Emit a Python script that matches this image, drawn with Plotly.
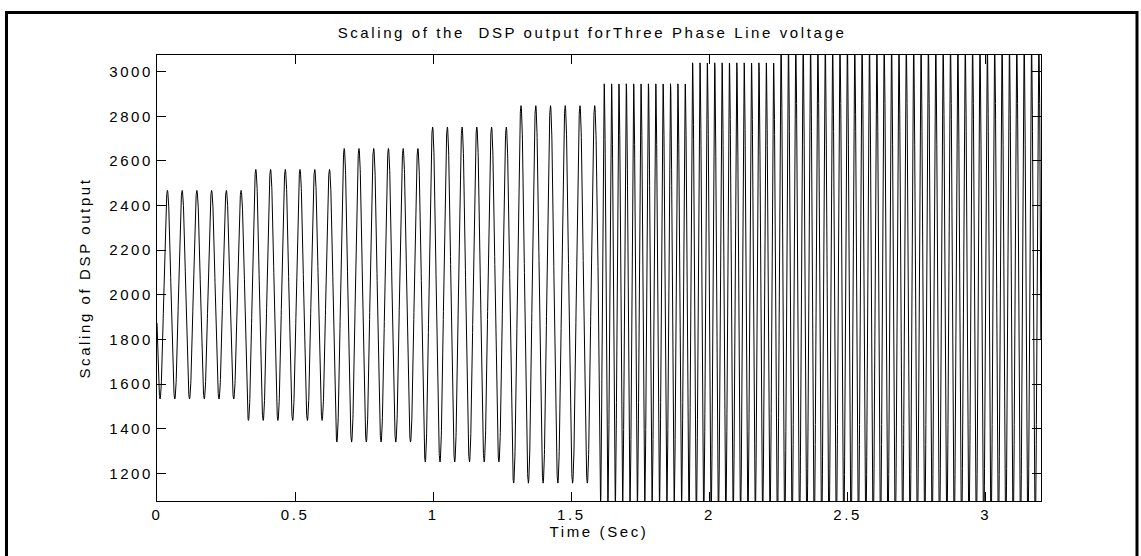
import numpy as np
import plotly.graph_objects as go

# ---- values ----
seg_start = [0.00, 0.32, 0.64, 0.96, 1.28, 1.60, 1.92, 2.24]
seg_end = [0.32, 0.64, 0.96, 1.28, 1.60, 1.92, 2.24, 3.20]
seg_max = [2468, 2562, 2656, 2752, 2848, 2946, 3040, 3135]
seg_min = [1533, 1437, 1340, 1251, 1156, 1060, 965, 870]
seg_freq_hz = [18.75, 18.75, 18.75, 18.75, 18.75, 37.5, 37.5, 37.5]
first_trough_t = 0.011

x_tick_vals = [0, 0.5, 1, 1.5, 2, 2.5, 3]
x_tick_text = ["0", "0.5", "1", "1.5", "2", "2.5", "3"]
y_tick_vals = [1200, 1400, 1600, 1800, 2000, 2200, 2400, 2600, 2800, 3000]
y_tick_text = [str(v) for v in y_tick_vals]

title_text = "Scaling of the  DSP output forThree Phase Line voltage"
x_title = "Time (Sec)"
y_title = "Scaling of DSP output"

# ---- build the sampled waveform from the segment values ----
t_all, y_all = [], []
phase_acc = -2 * np.pi * seg_freq_hz[0] * first_trough_t
for s, e, hi, lo, f in zip(seg_start, seg_end, seg_max, seg_min, seg_freq_hz):
    tt = np.arange(s, e, 0.0004)
    ph = phase_acc + 2 * np.pi * f * (tt - s)
    c = (hi + lo) / 2.0
    a = (hi - lo) / 2.0
    t_all.append(tt)
    y_all.append(c - a * np.cos(ph))
    phase_acc += 2 * np.pi * f * (e - s)
t_all = np.concatenate(t_all)
y_all = np.concatenate(y_all)

LS = "letter-spacing:2.6px"


def sp(txt):
    return f'<span style="{LS}">{txt}</span>'


font = dict(family="Liberation Sans, Arial, sans-serif", size=15, color="black")

fig = go.Figure()
fig.add_trace(go.Scatter(x=t_all, y=y_all, mode="lines",
                         line=dict(color="black", width=1), showlegend=False,
                         hoverinfo="skip"))

W, H = 1141, 556
L, R, T, B = 157, 100, 55, 55
pw = W - L - R
ph_ = H - T - B

fig.update_layout(
    width=W, height=H,
    margin=dict(l=L, r=R, t=T, b=B, autoexpand=False),
    paper_bgcolor="white", plot_bgcolor="white",
    font=font,
    title=dict(text=sp(title_text), x=(592 - L) / pw, xref="paper", xanchor="center",
               y=1 - 33 / H, yref="container", yanchor="middle", font=font),
    xaxis=dict(range=[0, 3.2], tickmode="array", tickvals=x_tick_vals,
               ticktext=[sp(t) for t in x_tick_text],
               showline=True, linecolor="black", linewidth=1, mirror="ticks",
               ticks="inside", ticklen=9, tickcolor="black", tickwidth=1,
               showgrid=False, zeroline=False, tickfont=font,
               title=dict(text=sp(x_title), font=font, standoff=4),
               automargin=False),
    yaxis=dict(range=[1076, 3075], tickmode="array", tickvals=y_tick_vals,
               ticktext=[sp(t) for t in y_tick_text],
               showline=True, linecolor="black", linewidth=1, mirror="ticks",
               ticks="inside", ticklen=9, tickcolor="black", tickwidth=1,
               showgrid=False, zeroline=False, tickfont=font,
               title=dict(text=sp(y_title), font=font, standoff=14),
               automargin=False),
)

# outer frame around the figure (as in the source document)
fig.add_shape(type="rect", xref="paper", yref="paper",
              x0=(6.5 - L) / pw, x1=(1137 - L) / pw,
              y0=-0.25, y1=1 + (T - 12.5) / ph_,
              line=dict(color="black", width=3), fillcolor="rgba(0,0,0,0)",
              layer="above")

fig.write_html("out.html",
               config={"displayModeBar": False},
               post_script="document.body.style.margin='0';document.body.style.overflow='hidden';")
